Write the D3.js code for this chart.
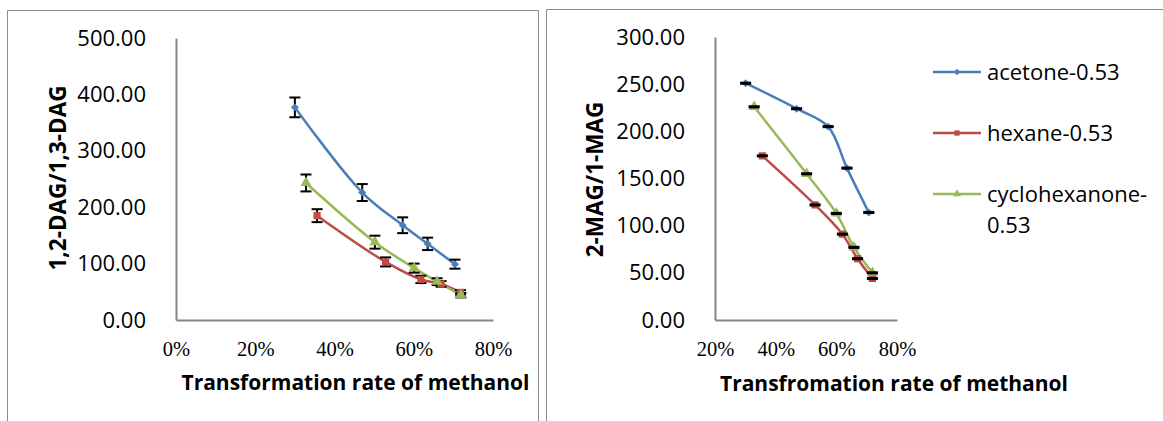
<!DOCTYPE html>
<html>
<head>
<meta charset="utf-8">
<script src="https://cdn.jsdelivr.net/npm/d3@7"></script>
<style>
  html, body { margin: 0; padding: 0; background: #fff; }
  svg { display: block; }
</style>
</head>
<body>
<svg id="chart" width="1163" height="421"></svg>
<script>
// ---- Series names ----
const seriesNames = ["acetone-0.53", "hexane-0.53", "cyclohexanone-0.53"];

// ---- Panel A: 1,2-DAG/1,3-DAG vs. methanol transformation rate ----
const dagAcetoneRate = [0.300, 0.470, 0.572, 0.635, 0.704];
const dagAcetone     = [377, 226, 168, 135, 99];
const dagAcetoneErr  = [17.5, 15, 14, 11, 8];

const dagHexaneRate  = [0.356, 0.529, 0.618, 0.669, 0.718];
const dagHexane      = [185, 103, 72, 64, 49];
const dagHexaneErr   = [11.5, 8, 6.5, 5, 4];

const dagCycloRate   = [0.328, 0.502, 0.601, 0.659, 0.719];
const dagCyclo       = [243, 138, 92, 68, 44];
const dagCycloErr    = [15, 11.5, 8, 6, 4];

const dagXTicks = [0, 0.2, 0.4, 0.6, 0.8];
const dagYTicks = [0, 100, 200, 300, 400, 500];

// ---- Panel B: 2-MAG/1-MAG vs. methanol transformation rate ----
const magAcetoneRate = [0.301, 0.469, 0.573, 0.635, 0.707];
const magAcetone     = [251, 224, 205, 161, 114];
const magAcetoneErr  = [0.6, 0.6, 0.6, 0.6, 0.6];

const magHexaneRate  = [0.356, 0.530, 0.620, 0.670, 0.719];
const magHexane      = [174, 122, 91, 65, 44];
const magHexaneErr   = [0.6, 0.6, 0.6, 0.6, 0.6];

const magCycloRate   = [0.329, 0.502, 0.600, 0.658, 0.719];
const magCyclo       = [226, 155, 113, 77, 50];
const magCycloErr    = [0.6, 0.6, 0.6, 0.6, 0.6];

const magXTicks = [0.2, 0.4, 0.6, 0.8];
const magYTicks = [0, 50, 100, 150, 200, 250, 300];

// ---- Styling ----
const colors  = ["#4a7ebb", "#be4b48", "#98b954"];
const symbols = [d3.symbolDiamond2, d3.symbolSquare, d3.symbolTriangle];
const axisColor = "#868686";
const sansFont  = "'Open Sans', sans-serif";
const serifFont = "'Liberation Serif', serif";

const svg = d3.select("#chart");
svg.append("rect").attr("width", 1163).attr("height", 421).attr("fill", "#fff");

// chart frames (open at the bottom)
svg.append("path")
  .attr("d", "M7.5,421 V10.5 H538.5 V421")
  .attr("fill", "none").attr("stroke", "#8c8c8c").attr("stroke-width", 1);
svg.append("path")
  .attr("d", "M546.5,421 V9.5 H1163")
  .attr("fill", "none").attr("stroke", "#8c8c8c").attr("stroke-width", 1);

function zip(xs, ys, es) {
  return xs.map((x, i) => ({ x, y: ys[i], e: es[i] }));
}

function drawPanel(p) {
  const x = d3.scaleLinear().domain(p.xDomain).range(p.xRange);
  const y = d3.scaleLinear().domain(p.yDomain).range(p.yRange);
  const g = svg.append("g");

  // y axis
  const yAxis = g.append("g")
    .attr("transform", `translate(${p.xRange[0]},0)`)
    .call(d3.axisLeft(y).tickValues(p.yTicks).tickFormat(d3.format(".2f"))
      .tickSize(0).tickSizeOuter(0).tickPadding(30));
  // x axis
  const xAxis = g.append("g")
    .attr("transform", `translate(0,${p.yRange[0]})`)
    .call(d3.axisBottom(x).tickValues(p.xTicks).tickFormat(d3.format(".0%"))
      .tickSize(0).tickSizeOuter(0).tickPadding(21));

  [yAxis, xAxis].forEach(a => {
    a.select(".domain").attr("stroke", axisColor).attr("stroke-width", 2);
    a.selectAll(".tick line").remove();
  });
  yAxis.selectAll("text")
    .attr("font-family", sansFont).attr("font-size", 22).attr("fill", "#000");
  xAxis.selectAll("text")
    .attr("font-family", serifFont).attr("font-size", 20.5).attr("fill", "#000");

  // axis titles
  g.append("text")
    .attr("transform", `translate(${p.yTitlePos[0]},${p.yTitlePos[1]}) rotate(-90)`)
    .attr("text-anchor", "middle").attr("dominant-baseline", "central")
    .attr("font-family", sansFont).attr("font-weight", 700).attr("font-size", 22.5)
    .text(p.yTitle);
  g.append("text")
    .attr("x", p.xTitlePos[0]).attr("y", p.xTitlePos[1])
    .attr("text-anchor", "middle").attr("dominant-baseline", "central")
    .attr("font-family", sansFont).attr("font-weight", 700).attr("font-size", 21)
    .text(p.xTitle);

  const line = d3.line()
    .x(d => x(d.x)).y(d => y(d.y))
    .curve(d3.curveCatmullRom.alpha(0.5));

  // series lines
  p.series.forEach((s, i) => {
    g.append("path").datum(s)
      .attr("d", line).attr("fill", "none")
      .attr("stroke", colors[i]).attr("stroke-width", 2.5)
      .attr("stroke-linejoin", "round").attr("stroke-linecap", "round");
  });

  const drawErrors = () => {
    p.series.forEach(s => {
      const eb = g.append("g").attr("stroke", "#000").attr("stroke-width", 2);
      s.forEach(d => {
        const cx = x(d.x), top = y(d.y + d.e), bot = y(d.y - d.e);
        eb.append("line").attr("x1", cx).attr("x2", cx).attr("y1", top).attr("y2", bot);
        eb.append("line").attr("x1", cx - 5.5).attr("x2", cx + 5.5).attr("y1", top).attr("y2", top);
        eb.append("line").attr("x1", cx - 5.5).attr("x2", cx + 5.5).attr("y1", bot).attr("y2", bot);
      });
    });
  };
  const drawMarkers = () => {
    p.series.forEach((s, i) => {
      const sym = d3.symbol().type(symbols[i]).size(i === 0 ? 40 : 52);
      g.selectAll(null).data(s).join("path")
        .attr("transform", d => `translate(${x(d.x)},${y(d.y)})`)
        .attr("d", sym).attr("fill", colors[i]);
    });
  };

  if (p.errorsOnTop) { drawMarkers(); drawErrors(); }
  else { drawErrors(); drawMarkers(); }

  return g;
}

drawPanel({
  xDomain: [0, 0.8], xRange: [176, 493],
  yDomain: [0, 500], yRange: [320, 38],
  xTicks: dagXTicks, yTicks: dagYTicks,
  yTitle: "1,2-DAG/1,3-DAG", yTitlePos: [57, 178],
  xTitle: "Transformation rate of methanol", xTitlePos: [355.5, 382],
  errorsOnTop: false,
  series: [
    zip(dagAcetoneRate, dagAcetone, dagAcetoneErr),
    zip(dagHexaneRate, dagHexane, dagHexaneErr),
    zip(dagCycloRate, dagCyclo, dagCycloErr)
  ]
});

drawPanel({
  xDomain: [0.2, 0.8], xRange: [715, 897],
  yDomain: [0, 300], yRange: [320, 37],
  xTicks: magXTicks, yTicks: magYTicks,
  yTitle: "2-MAG/1-MAG", yTitlePos: [594.5, 179.5],
  xTitle: "Transfromation rate of methanol", xTitlePos: [894, 383],
  errorsOnTop: true,
  series: [
    zip(magAcetoneRate, magAcetone, magAcetoneErr),
    zip(magHexaneRate, magHexane, magHexaneErr),
    zip(magCycloRate, magCyclo, magCycloErr)
  ]
});

// legend
const legend = svg.append("g").attr("transform", "translate(933,72)");
const legendRows = [[seriesNames[0]], [seriesNames[1]], ["cyclohexanone-", "0.53"]];
legendRows.forEach((lines, i) => {
  const row = legend.append("g").attr("transform", `translate(0,${i * 61})`);
  row.append("line").attr("x1", 0).attr("x2", 48).attr("y1", 0).attr("y2", 0)
    .attr("stroke", colors[i]).attr("stroke-width", 2.5);
  row.append("path").attr("transform", "translate(24,0)")
    .attr("d", d3.symbol().type(symbols[i]).size(28)).attr("fill", colors[i]);
  const t = row.append("text")
    .attr("font-family", sansFont).attr("font-size", 22).attr("fill", "#000");
  lines.forEach((ln, k) => {
    t.append("tspan").attr("x", 54).attr("y", k * 31).attr("dy", "0.35em").text(ln);
  });
});
</script>
</body>
</html>
